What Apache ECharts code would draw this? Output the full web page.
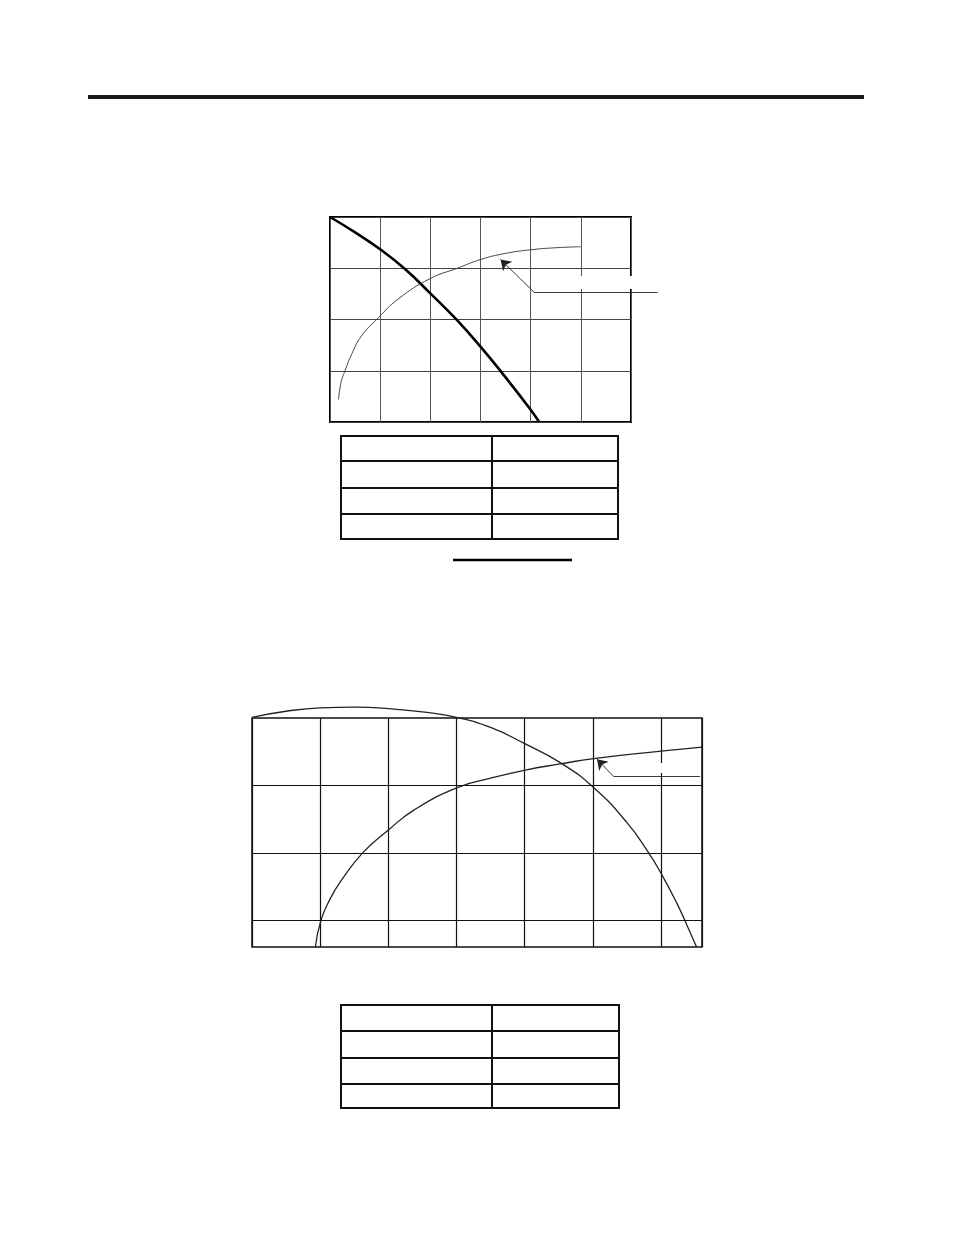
<!DOCTYPE html>
<html>
<head>
<meta charset="utf-8">
<script src="https://cdn.jsdelivr.net/npm/echarts@6/dist/echarts.min.js"></script>
<style>
html, body { margin: 0; padding: 0; background: #fff; }
#main { width: 954px; height: 1235px; }
</style>
</head>
<body>
<div id="main"></div>
<script>
// upper chart: falling (thick) and rising (thin) curve
var upperThickX = [0, 0.5, 1.0, 1.5, 2.0, 2.5, 3.0, 3.5, 4.0, 4.17];
var upperThickY = [4.0, 3.70, 3.37, 2.98, 2.51, 2.02, 1.47, 0.87, 0.24, 0];
var upperThinX = [0.17, 0.22, 0.30, 0.43, 0.63, 0.96, 1.36, 2.0, 2.54, 3.0, 3.5, 4.0, 4.5, 5.0];
var upperThinY = [0.44, 0.77, 1.00, 1.32, 1.68, 2.03, 2.40, 2.80, 3.0, 3.17, 3.29, 3.36, 3.40, 3.42];
var upperLeaderX = [6.53, 4.07, 3.40];
var upperLeaderY = [2.53, 2.53, 3.17];

// lower chart: arched curve and rising curve
var lowerBellX = [0, 0.5, 1.0, 1.5, 2.0, 2.5, 3.0, 3.5, 4.0, 4.52, 5.01, 5.5, 5.82, 6.0, 6.23, 6.35, 6.52];
var lowerBellY = [3.01, 3.10, 3.15, 3.16, 3.14, 3.09, 3.01, 2.86, 2.62, 2.34, 1.97, 1.45, 1.0, 0.70, 0.26, 0, -0.39];
var lowerRiseX = [0.93, 1.01, 1.15, 1.30, 1.62, 2.01, 2.38, 3.01, 3.5, 4.01, 4.52, 5.01, 6.0, 6.6];
var lowerRiseY = [-0.39, 0, 0.33, 0.58, 1.0, 1.35, 1.64, 1.97, 2.11, 2.23, 2.32, 2.40, 2.51, 2.57];
var lowerLeaderX = [6.57, 5.30, 5.06];
var lowerLeaderY = [2.14, 2.14, 2.39];
var lowerRules = [0, 1, 2];

function pairs(xs, ys) {
    return xs.map(function (x, i) { return [x, ys[i]]; });
}

var myChart = echarts.init(document.getElementById('main'));

function tableLines(left, right, mid, rows) {
    var els = [];
    var top = rows[0], bottom = rows[rows.length - 1];
    els.push({ type: 'rect', shape: { x: left, y: top, width: right - left, height: bottom - top },
        style: { fill: 'none', stroke: '#111', lineWidth: 2 } });
    els.push({ type: 'line', shape: { x1: mid, y1: top, x2: mid, y2: bottom },
        style: { stroke: '#111', lineWidth: 2 } });
    for (var i = 1; i < rows.length - 1; i++) {
        els.push({ type: 'line', shape: { x1: left, y1: rows[i], x2: right, y2: rows[i] },
            style: { stroke: '#111', lineWidth: 2 } });
    }
    return els;
}

var axisOff = { axisLine: { show: false }, axisTick: { show: false }, axisLabel: { show: false } };

function leader(xi, xs, ys, arrow) {
    return {
        type: 'lines',
        coordinateSystem: 'cartesian2d',
        xAxisIndex: xi,
        yAxisIndex: xi,
        clip: false,
        silent: true,
        symbol: arrow ? ['none', 'arrow'] : 'none',
        symbolSize: [6, 10],
        lineStyle: { color: '#222', width: 0.9, opacity: 1, curveness: 0 },
        data: [{ coords: pairs(xs, ys) }]
    };
}

function curve(xi, xs, ys, color, width) {
    return {
        type: 'line', xAxisIndex: xi, yAxisIndex: xi,
        data: pairs(xs, ys),
        smooth: 0.5, showSymbol: false, clip: false, silent: true,
        lineStyle: { color: color, width: width }
    };
}

var bell = curve(1, lowerBellX, lowerBellY, '#222', 1.3);
bell.markLine = {
    silent: true, symbol: 'none', label: { show: false },
    lineStyle: { color: '#111', width: 1.2, type: 'solid' },
    data: lowerRules.map(function (v) { return { yAxis: v }; })
};

option = {
    backgroundColor: '#fff',
    animation: false,
    grid: [
        { left: 330, top: 217, width: 301, height: 205, show: true, borderColor: '#000', borderWidth: 2, backgroundColor: 'transparent' },
        { left: 252, top: 718, width: 450, height: 229, show: true, borderColor: '#111', borderWidth: 1.5, backgroundColor: 'transparent' }
    ],
    xAxis: [
        Object.assign({ type: 'value', gridIndex: 0, min: 0, max: 6, interval: 1,
            splitLine: { show: true, lineStyle: { color: '#555', width: 1 } } }, axisOff),
        Object.assign({ type: 'value', gridIndex: 1, min: 0, max: 6.6, interval: 1,
            splitLine: { show: true, lineStyle: { color: '#111', width: 1.2 } } }, axisOff)
    ],
    yAxis: [
        Object.assign({ type: 'value', gridIndex: 0, min: 0, max: 4, interval: 1,
            splitLine: { show: true, lineStyle: { color: '#444', width: 1 } } }, axisOff),
        Object.assign({ type: 'value', gridIndex: 1, min: -0.39, max: 3,
            splitLine: { show: false } }, axisOff)
    ],
    series: [
        curve(0, upperThickX, upperThickY, '#000', 2.6),
        curve(0, upperThinX, upperThinY, '#333', 0.9),
        leader(0, upperLeaderX.slice(0, 2), upperLeaderY.slice(0, 2), false),
        leader(0, upperLeaderX.slice(1), upperLeaderY.slice(1), true),
        bell,
        curve(1, lowerRiseX, lowerRiseY, '#222', 1.3),
        leader(1, lowerLeaderX.slice(0, 2), lowerLeaderY.slice(0, 2), false),
        leader(1, lowerLeaderX.slice(1), lowerLeaderY.slice(1), true)
    ],
    graphic: [
        { type: 'rect', shape: { x: 88, y: 95, width: 776, height: 4 }, style: { fill: '#1a1a1a' } },
        // blank spots left where labels covered the grid lines
        { type: 'rect', z: 100, shape: { x: 578, y: 276, width: 10, height: 13 }, style: { fill: '#fff' } },
        { type: 'rect', z: 100, shape: { x: 626, y: 276, width: 8, height: 13 }, style: { fill: '#fff' } },
        { type: 'rect', z: 100, shape: { x: 657, y: 763, width: 9, height: 10 }, style: { fill: '#fff' } },
        { type: 'line', shape: { x1: 453, y1: 560, x2: 572, y2: 560 }, style: { stroke: '#000', lineWidth: 2.5 } }
    ].concat(
        tableLines(341, 618, 492, [436, 461, 488, 514, 539]),
        tableLines(341, 619, 492, [1005, 1031, 1058, 1084, 1108])
    )
};

myChart.setOption(option);
</script>
</body>
</html>
